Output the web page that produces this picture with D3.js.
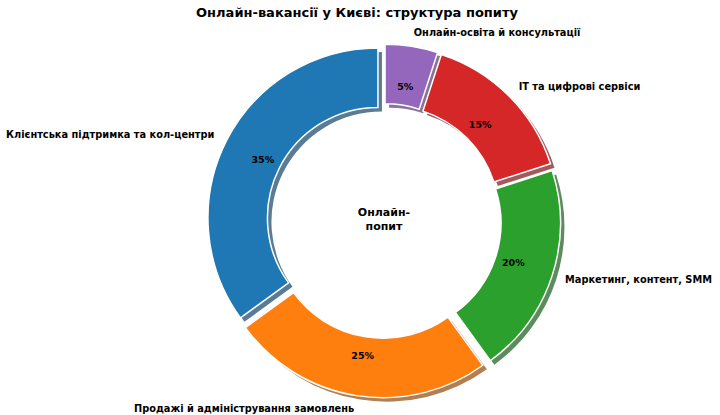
<!DOCTYPE html>
<html><head><meta charset="utf-8">
<script src="https://cdn.jsdelivr.net/npm/d3@7"></script>
<style>body{margin:0;background:#fff}svg{font-family:"DejaVu Sans",sans-serif}</style>
</head><body><svg id="c" width="720" height="415"></svg>
<script>
const categories=["Клієнтська підтримка та кол-центри","Продажі й адміністрування замовлень","Маркетинг, контент, SMM","IT та цифрові сервіси","Онлайн-освіта й консультації"];
const values=[35,25,20,15,5];
const colors=["#1f77b4","#ff7f0e","#2ca02c","#d62728","#9467bd"];
const svg=d3.select("#c");
const cx=384,cy=221,R=170,r=R*0.65,ex=R*0.04;
svg.append("text").attr("x",357).attr("y",17).attr("text-anchor","middle").attr("font-size",13).attr("font-weight","bold").text("Онлайн-вакансії у Києві: структура попиту");
const pie=d3.pie().sort(null).startAngle(0).endAngle(-2*Math.PI)(values);
const arc=d3.arc().innerRadius(r).outerRadius(R);
const g=svg.append("g").attr("transform",`translate(${cx},${cy})`);
const mid=d=>(d.startAngle+d.endAngle)/2;
const off=(d,k)=>[Math.sin(mid(d))*k,-Math.cos(mid(d))*k];
pie.forEach((d,i)=>{const [dx,dy]=off(d,ex);
 g.append("path").attr("d",arc(d)).attr("transform",`translate(${dx+4},${dy+4})`).attr("fill",d3.color(colors[i]).darker(1.6)).attr("opacity",0.7);
});
pie.forEach((d,i)=>{const [dx,dy]=off(d,ex);
 g.append("path").attr("d",arc(d)).attr("transform",`translate(${dx},${dy})`).attr("fill",colors[i]).attr("stroke","#fff").attr("stroke-width",1.5);
 const [px,py]=off(d,ex+R*0.76);
 g.append("text").attr("x",px).attr("y",py).attr("dy","0.35em").attr("text-anchor","middle").attr("font-size",9.5).attr("font-weight","bold").text(values[i]+"%");
 const [lx,ly]=off(d,ex+R*1.08);
 g.append("text").attr("x",lx).attr("y",ly).attr("dy","0.35em").attr("text-anchor",lx<0?"end":"start").attr("font-size",9.8).attr("font-weight","bold").text(categories[i]);
});
g.append("text").attr("text-anchor","middle").attr("font-size",11).attr("font-weight","bold").selectAll("tspan").data(["Онлайн-","попит"]).join("tspan").attr("x",0).attr("y",(d,i)=>-5+i*14).text(d=>d);
</script></body></html>
